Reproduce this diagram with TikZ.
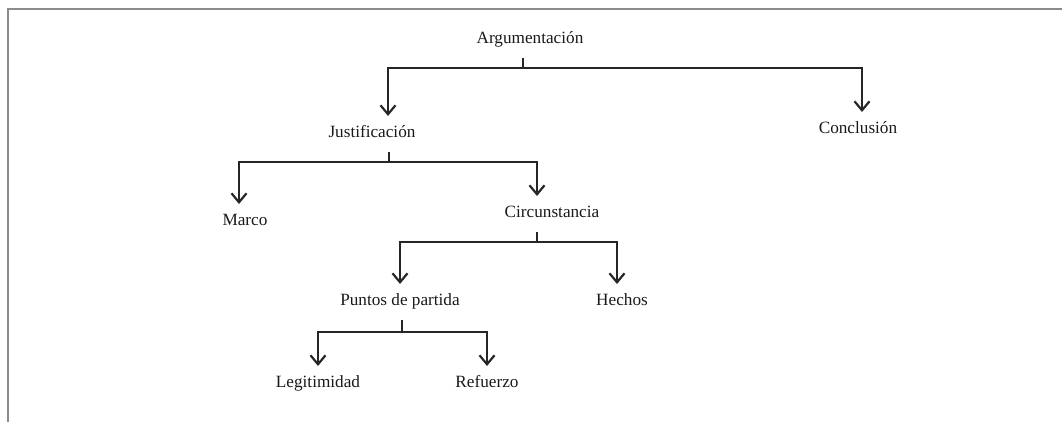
\documentclass[tikz,border=0pt]{standalone}
\usepackage{fontspec}
\setmainfont{Liberation Serif}
\usepackage{tikz}
\usetikzlibrary{arrows.meta,positioning}
\tikzset{
    concepto/.style={
        inner sep=0pt,
        outer sep=5pt,
        text height=6pt,
        text depth=2pt,
        text=black!90,
        font=\fontsize{8.6}{10}\selectfont
    },
    rama/.style={-{Straight Barb[length=4.5pt,width=7.5pt]}, line width=1.1pt, black!85},
    moldura/.style={draw=black!45, line width=1.3pt}
}

\begin{document}
\begin{tikzpicture}[x=0.5pt,y=-0.5pt]
        \useasboundingbox (0,0) rectangle (1062,422);
        \path[moldura] (8,422) |- (1062,9);
        \node[concepto] (arg) at (530,40) {Argumentación};
        \node[concepto] (just) at (372,134) {Justificación};
        \node[concepto] (concl) at (858,130) {Conclusión};
        \node[concepto] (marco) at (245,222) {Marco};
        \node[concepto] (circ) at (552,214) {Circunstancia};
        \node[concepto] (puntos) at (400,302) {Puntos de partida};
        \node[concepto] (hechos) at (622,302) {Hechos};
        \node[concepto] (legit) at (318,384) {Legitimidad};
        \node[concepto] (refuerzo) at (487,384) {Refuerzo};
        \draw[rama] ([xshift=-3.5pt]arg.south) -- ++(0,10) -| ([xshift=8pt]just.north);
        \draw[rama] ([xshift=-3.5pt]arg.south) -- ++(0,10) -| ([xshift=2pt]concl.north);
        \draw[rama] ([xshift=8.5pt]just.south) -- ++(0,10) -| ([xshift=-3pt]marco.north);
        \draw[rama] ([xshift=8.5pt]just.south) -- ++(0,10) -| ([xshift=-7.5pt]circ.north);
        \draw[rama] ([xshift=-7.5pt]circ.south) -- ++(0,10) -| (puntos.north);
        \draw[rama] ([xshift=-7.5pt]circ.south) -- ++(0,10) -| ([xshift=-2.5pt]hechos.north);
        \draw[rama] ([xshift=1pt]puntos.south) -- ++(0,12) -| (legit.north);
        \draw[rama] ([xshift=1pt]puntos.south) -- ++(0,12) -| (refuerzo.north);
    \end{tikzpicture}
\end{document}
